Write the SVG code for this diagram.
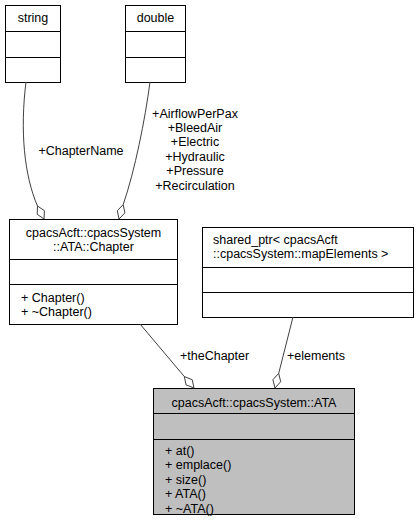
<svg xmlns="http://www.w3.org/2000/svg" width="418" height="529" viewBox="0 0 418 529">
<style>
text{font-family:"Liberation Sans",Arial,sans-serif;font-size:12.5px;fill:#000}
.box{fill:#fff;stroke:#000;stroke-width:1}
.hl{fill:#bfbfbf;stroke:#000;stroke-width:1}
.sep{stroke:#000;stroke-width:1}
.edge{fill:none;stroke:#404040;stroke-width:1}
.dia{fill:#fff;stroke:#404040;stroke-width:1}
.c{text-anchor:middle}
</style>
<rect width="418" height="529" fill="#fff"/>
<g id="node-string">
<rect class="box" x="5.5" y="5.5" width="55" height="77"/>
<line class="sep" x1="5.5" y1="31.5" x2="60.5" y2="31.5"/>
<line class="sep" x1="5.5" y1="57.5" x2="60.5" y2="57.5"/>
<text class="c" x="33" y="22">string</text>
</g>
<g id="node-double">
<rect class="box" x="125.5" y="5.5" width="60" height="77"/>
<line class="sep" x1="125.5" y1="31.5" x2="185.5" y2="31.5"/>
<line class="sep" x1="125.5" y1="57.5" x2="185.5" y2="57.5"/>
<text class="c" x="155.5" y="22">double</text>
</g>
<g id="node-chapter">
<rect class="box" x="9.5" y="219.5" width="168" height="105"/>
<line class="sep" x1="9.5" y1="259.5" x2="177.5" y2="259.5"/>
<line class="sep" x1="9.5" y1="284.5" x2="177.5" y2="284.5"/>
<text class="c" x="93.5" y="236.5">cpacsAcft::cpacsSystem</text>
<text class="c" x="93.5" y="250.5">::ATA::Chapter</text>
<text x="21" y="301.5">+ Chapter()</text>
<text x="21" y="315.5">+ ~Chapter()</text>
</g>
<g id="node-sharedptr">
<rect class="box" x="202.5" y="227.5" width="211" height="90"/>
<line class="sep" x1="202.5" y1="267.5" x2="413.5" y2="267.5"/>
<line class="sep" x1="202.5" y1="292.5" x2="413.5" y2="292.5"/>
<text x="213" y="243.5">shared_ptr&lt; cpacsAcft</text>
<text x="213" y="257.5">::cpacsSystem::mapElements &gt;</text>
</g>
<g id="node-ata">
<rect class="hl" x="153.5" y="388.5" width="201" height="126"/>
<line class="sep" x1="153.5" y1="413.5" x2="354.5" y2="413.5"/>
<line class="sep" x1="153.5" y1="439.5" x2="354.5" y2="439.5"/>
<text class="c" x="254" y="406.5">cpacsAcft::cpacsSystem::ATA</text>
<text x="165" y="454.5">+ at()</text>
<text x="165" y="469">+ emplace()</text>
<text x="165" y="483.5">+ size()</text>
<text x="165" y="498">+ ATA()</text>
<text x="165" y="512.5">+ ~ATA()</text>
</g>
<g id="connectors">
<path class="edge" d="M26,82 C20,130 24,175 37.5,206"/>
<polygon class="dia" points="44,219 44.4,210.7 37.5,206 37.2,214.3"/>
<text class="c" x="81" y="154.5">+ChapterName</text>
<path class="edge" d="M150,82 C145,120 135,170 123.2,204.6"/>
<polygon class="dia" points="119,219 124.9,212.9 123.2,204.6 117.3,210.7"/>
<text class="c" x="195" y="117.5">+AirflowPerPax</text>
<text class="c" x="195" y="131.5">+BleedAir</text>
<text class="c" x="195" y="146">+Electric</text>
<text class="c" x="195" y="160.5">+Hydraulic</text>
<text class="c" x="195" y="175">+Pressure</text>
<text class="c" x="195" y="190">+Recirculation</text>
<path class="edge" d="M140,324 L184.3,376.5"/>
<polygon class="dia" points="194,388 192.2,379.7 184.3,376.5 186.1,384.9"/>
<text x="180" y="359.5">+theChapter</text>
<path class="edge" d="M293,317 L278.7,373.4"/>
<polygon class="dia" points="275,388 280.7,381.7 278.7,373.4 272.9,379.7"/>
<text x="287" y="359.5">+elements</text>
</g>
</svg>
